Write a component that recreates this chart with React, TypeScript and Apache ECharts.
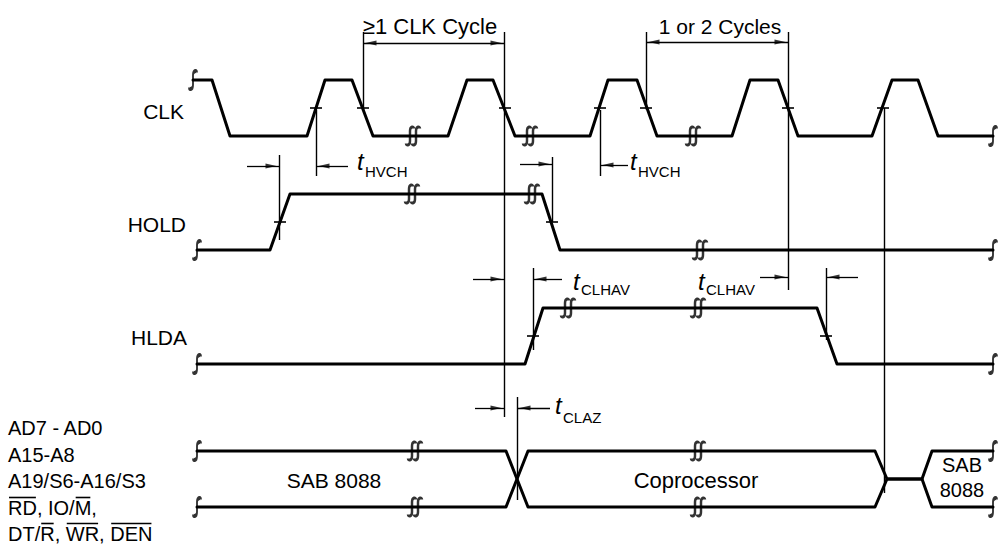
import React, { useEffect, useRef } from "react";
import * as echarts from "echarts";

type Pt = [number, number];

// ---------------- data ----------------
// waveforms: [time, level]  (1 = high, 0 = low)
const clkWave: Pt[] = [[193,1],[212,1],[230,0],[307,0],[325,1],[352,1],[373,0],[448,0],[467,1],[493,1],[515,0],[590,0],[608,1],[637,1],[657,0],[732,0],[750,1],[778,1],[798,0],[872,0],[892,1],[918,1],[938,0],[993,0]];
const holdWave: Pt[] = [[197,0],[270,0],[290,1],[542,1],[560,0],[993,0]];
const hldaWave: Pt[] = [[197,0],[525,0],[543,1],[817,1],[837,0],[993,0]];
// bus: 1 = on rail (valid), 0 = at mid (crossing / float)
const busWave: Pt[] = [[197,1],[506,1],[517,0],[528,1],[875,1],[887,0],[922,0],[932,1],[993,1]];

// time-axis breaks [time, level]
const clkBreaks: Pt[] = [[413,0],[530,0],[693,0]];
const holdBreaks: Pt[] = [[412,1],[532,1],[700,0]];
const hldaBreaks: Pt[] = [[568,1],[698,1]];
const busBreaks: number[] = [415, 698];

// 50% crossing marks (time)
const clkMarks = [316, 363, 505, 600, 646, 788, 883];
const holdMarks = [280, 552];
const hldaMarks = [533, 826];

// reference lines [time, from, to]
const refLines: [number, number, number][] = [
  [363,32,110],[504,32,417],[646,32,110],[788,32,290],[316,110,176],[279,155,240],
  [600,110,176],[552,157,222],[533,268,350],[826,268,340],[884,108,493],[517,397,500]
];
// dimension arrows [row, tail, head]
const dimArrows: [number, number, number][] = [
  [166,247,279],[166,348,316],[164,520,552],[165,628,600],
  [279,473,504],[279,562,533],[277,760,788],[277,858,826],
  [408,475,504],[408,550,517],
  [43,434,363],[43,434,504],[42,717,646],[42,717,788]
];

// texts
const signalNames = ["CLK", "HOLD", "HLDA"];
const busNames = ["AD7 - AD0", "A15-A8", "A19/S6-A16/S3", "RD, IO/M,", "DT/R, WR, DEN"];
const cycleTexts = ["\u22651 CLK Cycle", "1 or 2 Cycles"];
const busStates = ["SAB 8088", "Coprocessor"];
const timingSubs = ["HVCH", "HVCH", "CLHAV", "CLHAV", "CLAZ"];
// overbars: [busName index, prefix, barred text]
const overbars: [number, string, string][] = [
  [3, "", "RD"], [3, "RD, IO/", "M"],
  [4, "DT/", "R"], [4, "DT/R, ", "WR"], [4, "DT/R, WR, ", "DEN"]
];

// ---------------- layout ----------------
const CLK = { high: 80, low: 136 };
const HOLD = { high: 194, low: 250 };
const HLDA = { high: 308, low: 364 };
const BUS = { top: 451, mid: 479, bottom: 507 };
const signalLabelPos = [[184,111],[186,224],[187,337]];
const busLabelX = 8;
const busLabelY = [428,455,481,508,534];
const cycleTextPos = [[430,26],[720,26]];
const busStatePos = [[334,480],[696,480]];
const timingPos = [[357,161,171],[630,161,171],[573,281,289],[698,281,289],[555,405,417]];

const FONT = '"Liberation Sans", Arial, Helvetica, sans-serif';
const SQ1 = "path://M9,2 C9,0 5,0 5,4 L5,12 C5,16 1,16 1,14";
const SQ2 = "path://M9,2 C9,0 5,0 5,4 L5,12 C5,16 1,16 1,14 M15,2 C15,0 11,0 11,4 L11,12 C11,16 7,16 7,14";

function measure(s: string, font: string) {
  const c = document.createElement("canvas").getContext("2d")!;
  c.font = font;
  return c.measureText(s).width;
}

function buildOption() {
  const lv = (pts: Pt[], hi: number, lo: number) => pts.map(([t, l]) => [t, l ? hi : lo]);
  const lineS = (data: number[][]) => ({
    type: "line", data, symbol: "none", silent: true, z: 3,
    lineStyle: { color: "#000", width: 3, join: "round", cap: "round" }
  });
  const clk = lv(clkWave, CLK.high, CLK.low);
  const hold = lv(holdWave, HOLD.high, HOLD.low);
  const hlda = lv(hldaWave, HLDA.high, HLDA.low);
  const busTop = lv(busWave, BUS.top, BUS.mid);
  const busBot = lv(busWave, BUS.bottom, BUS.mid);

  const ends: number[][] = [];
  [clk, hold, hlda, busTop, busBot].forEach((w) => { ends.push(w[0]); ends.push(w[w.length - 1]); });
  const breaks: number[][] = [
    ...lv(clkBreaks, CLK.high, CLK.low),
    ...lv(holdBreaks, HOLD.high, HOLD.low),
    ...lv(hldaBreaks, HLDA.high, HLDA.low),
    ...busBreaks.flatMap((t) => [[t, BUS.top], [t, BUS.bottom]])
  ];
  const marks = [
    ...clkMarks.map((t) => [t, (CLK.high + CLK.low) / 2]),
    ...holdMarks.map((t) => [t, (HOLD.high + HOLD.low) / 2]),
    ...hldaMarks.map((t) => [t, (HLDA.high + HLDA.low) / 2])
  ];
  const heads = dimArrows.map(([y, tail, head]) => {
    const dir = head > tail ? 1 : -1;
    return { value: [head - dir * 8, y], symbolRotate: dir > 0 ? -90 : 90 };
  });

  const graphics: any[] = [];
  const txt = (text: string, x: number, y: number, font: string, align = "left") =>
    graphics.push({ type: "text", x, y, silent: true, style: { text, font, fill: "#000", align, verticalAlign: "middle" } });

  signalNames.forEach((n, i) => txt(n, signalLabelPos[i][0], signalLabelPos[i][1], `21px ${FONT}`, "right"));
  const busFont = `20px ${FONT}`;
  busNames.forEach((n, i) => txt(n, busLabelX, busLabelY[i], busFont));
  overbars.forEach(([i, pre, bar]) => {
    const x1 = busLabelX + measure(pre, busFont);
    const x2 = x1 + measure(bar, busFont);
    const y = busLabelY[i] - 10.5;
    graphics.push({ type: "line", silent: true, shape: { x1: x1 + 1, y1: y, x2: x2 - 1, y2: y }, style: { stroke: "#000", lineWidth: 1.6 } });
  });
  cycleTexts.forEach((s, i) => txt(s, cycleTextPos[i][0], cycleTextPos[i][1], `${i === 0 ? 22 : 21}px ${FONT}`, "center"));
  busStates.forEach((s, i) => txt(s, busStatePos[i][0], busStatePos[i][1], `${i === 0 ? 21 : 22}px ${FONT}`, "center"));
  txt("SAB", 962, 465, `20px ${FONT}`, "center");
  txt("8088", 962, 490, `20px ${FONT}`, "center");
  timingSubs.forEach((s, i) => {
    const [x, ty, sy] = timingPos[i];
    txt("t", x, ty, `italic 24px ${FONT}`);
    txt(s, x + 8, sy, `15px ${FONT}`);
  });

  return {
    animation: false,
    backgroundColor: "#fff",
    grid: { left: 0, right: 0, top: 0, bottom: 0 },
    xAxis: { type: "value", min: 0, max: 1000, show: false },
    yAxis: { type: "value", min: 0, max: 554, inverse: true, show: false },
    tooltip: { show: false },
    series: [
      lineS(clk), lineS(hold), lineS(hlda), lineS(busTop), lineS(busBot),
      {
        type: "lines", coordinateSystem: "cartesian2d", silent: true, z: 2,
        lineStyle: { color: "#000", width: 1.4, opacity: 1 },
        data: refLines.map(([x, a, b]) => ({ coords: [[x, a], [x, b]] }))
      },
      {
        type: "lines", coordinateSystem: "cartesian2d", silent: true, z: 2,
        lineStyle: { color: "#000", width: 1.3, opacity: 1 },
        data: dimArrows.map(([y, a, b]) => ({ coords: [[a, y], [b, y]] }))
      },
      {
        type: "scatter", silent: true, z: 4, symbol: "triangle", symbolSize: [5, 11],
        itemStyle: { color: "#000" }, data: heads
      },
      {
        type: "scatter", silent: true, z: 4, symbol: "rect", symbolSize: [12, 2],
        itemStyle: { color: "#000" }, data: marks
      },
      {
        type: "scatter", silent: true, z: 5, symbol: SQ1, symbolSize: [8, 18],
        itemStyle: { color: "rgba(0,0,0,0)", borderColor: "#000", borderWidth: 2.8 }, data: ends
      },
      {
        type: "scatter", silent: true, z: 5, symbol: SQ2, symbolSize: [14, 18],
        itemStyle: { color: "rgba(0,0,0,0)", borderColor: "#000", borderWidth: 2.8 }, data: breaks
      }
    ],
    graphic: graphics
  };
}

export default function App() {
  const ref = useRef<HTMLDivElement>(null);
  useEffect(() => {
    const chart = echarts.init(ref.current!, null, { renderer: "svg" });
    chart.setOption(buildOption() as any);
    return () => chart.dispose();
  }, []);
  return (
    <div
      ref={ref}
      style={{ position: "absolute", left: 0, top: 0, width: 1000, height: 554, background: "#fff" }}
    />
  );
}
